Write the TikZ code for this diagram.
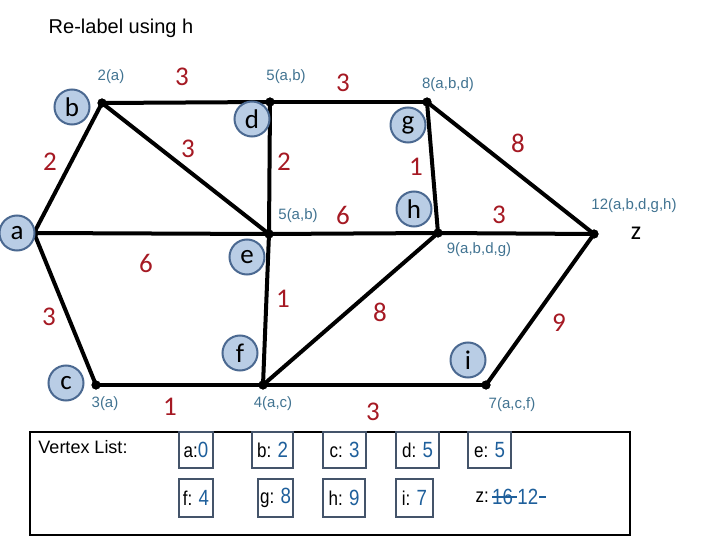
\documentclass[tikz,border=0pt]{standalone}
\usepackage{fontspec}
\setmainfont{Liberation Sans}
\newfontfamily\calib{Carlito}
\definecolor{wred}{RGB}{165,25,35}
\definecolor{lblue}{RGB}{65,115,145}
\definecolor{cfill}{RGB}{185,205,229}
\definecolor{cdraw}{RGB}{75,105,145}
\definecolor{bdraw}{RGB}{68,84,106}
\definecolor{nblue}{RGB}{30,95,155}
\newcommand{\nar}[1]{\scalebox{0.85}[1]{#1}}
\newcommand{\bnum}[1]{\textcolor{nblue}{\fontsize{22}{24}\selectfont #1}}
\begin{document}
\begin{tikzpicture}[x=1pt,y=-1pt,
  edge/.style={line width=4pt},
  dot/.style={circle,fill=black,inner sep=0pt,minimum size=9pt},
  vert/.style={circle,fill=cfill,draw=cdraw,line width=2pt,minimum size=35pt,inner sep=0pt,font=\calib\fontsize{27}{29}\selectfont},
  wt/.style={text=wred,font=\calib\fontsize{27}{29}\selectfont,inner sep=0pt},
  lab/.style={text=lblue,font=\fontsize{15}{17}\selectfont,inner sep=0pt},
  vbox/.style={draw=bdraw,line width=2pt,inner sep=0pt,font=\fontsize{20}{22}\selectfont},
  vtxt/.style={font=\fontsize{20}{22}\selectfont,inner sep=0pt}]
\useasboundingbox (0,0) rectangle (720,540);
% points
\node[dot] (a) at (34,233) {};
\node[dot] (b) at (102,103) {};
\node[dot] (d) at (270,102) {};
\node[dot] (e) at (269,234) {};
\node[dot] (g) at (427,102) {};
\node[dot] (h) at (438,233) {};
\node[dot] (z) at (594,234) {};
\node[dot] (c) at (96,385) {};
\node[dot] (f) at (263,385) {};
\node[dot] (i) at (486,385) {};
% edges
\draw[edge] (a.center) -- (b.center);
\draw[edge] (a.center) -- (e.center);
\draw[edge] (a.center) -- (c.center);
\draw[edge] (b.center) -- (d.center);
\draw[edge] (b.center) -- (e.center);
\draw[edge] (d.center) -- (e.center);
\draw[edge] (d.center) -- (g.center);
\draw[edge] (g.center) -- (h.center);
\draw[edge] (g.center) -- (z.center);
\draw[edge] (e.center) -- (h.center);
\draw[edge] (h.center) -- (z.center);
\draw[edge] (e.center) -- (f.center);
\draw[edge] (c.center) -- (f.center);
\draw[edge] (f.center) -- (h.center);
\draw[edge] (f.center) -- (i.center);
\draw[edge] (i.center) -- (z.center);
\foreach \p in {a,b,d,e,g,h,z,c,f,i} \fill (\p) circle (4.5pt);
% vertex circles
\node[vert] (va) at (17,233) {a};
\node[vert] (vb) at (72,107) {b};
\node[vert] (vd) at (252,119) {d};
\node[vert] (ve) at (247,257) {e};
\node[vert] (vg) at (408,125) {g};
\node[vert] (vh) at (414,209) {h};
\node[vert] (vc) at (66,383) {c};
\node[vert] (vf) at (240,353) {f};
\node[vert] (vi) at (468,360) {i};
\node[font=\calib\fontsize{26}{28}\selectfont,inner sep=0pt] (vz) at (636,233) {z};
% weights
\node[wt] (w1) at (182,77) {3};
\node[wt] (w2) at (343,83) {3};
\node[wt] (w3) at (50,162) {2};
\node[wt] (w4) at (188,149) {3};
\node[wt] (w5) at (284,162) {2};
\node[wt] (w6) at (343,215) {6};
\node[wt] (w7) at (146,263) {6};
\node[wt] (w8) at (518,143) {8};
\node[wt] (w9) at (416,167) {1};
\node[wt] (w10) at (499,215) {3};
\node[wt] (w11) at (49,317) {3};
\node[wt] (w12) at (283,299) {1};
\node[wt] (w13) at (170,407) {1};
\node[wt] (w14) at (380,312) {8};
\node[wt] (w15) at (559,323) {9};
\node[wt] (w16) at (373,412) {3};
% labels
\node[lab] (l1) at (111,77) {2(a)};
\node[lab] (l2) at (286,77) {5(a,b)};
\node[lab] (l3) at (448,85) {8(a,b,d)};
\node[lab] (l4) at (298,216) {5(a,b)};
\node[lab] (l5) at (634,206) {12(a,b,d,g,h)};
\node[lab] (l6) at (479,250) {9(a,b,d,g)};
\node[lab] (l7) at (105,404) {3(a)};
\node[lab] (l8) at (273,404) {4(a,c)};
\node[lab] (l9) at (512,405) {7(a,c,f)};
% title
\node[font=\fontsize{20}{22}\selectfont,inner sep=0pt] (title) at (121,28) {Re-label using h};
% vertex list
\draw[line width=2.5pt] (30,432) rectangle (630,535);
\node[font=\fontsize{18}{20}\selectfont,inner sep=0pt] (vl) at (83,447) {Vertex List:};
\node[vbox,minimum width=34pt,minimum height=36pt] (ba) at (196,450) {\nar{a:\bnum{0}}};
\node[vbox,minimum width=41pt,minimum height=36pt] (bb) at (272.5,450) {\nar{b: \bnum{2}}};
\node[vbox,minimum width=43pt,minimum height=36pt] (bc) at (344.5,450) {\nar{c: \bnum{3}}};
\node[vbox,minimum width=43pt,minimum height=36pt] (bd) at (417.5,450) {\nar{d: \bnum{5}}};
\node[vbox,minimum width=43pt,minimum height=36pt] (be) at (489.5,450) {\nar{e: \bnum{5}}};
\node[vbox,minimum width=34pt,minimum height=38pt] (bf) at (196,498) {\nar{f: \bnum{4}}};
\node[vbox,minimum width=35pt,minimum height=38pt] (bg) at (275.5,498) {\nar{g: \bnum{8}}};
\node[vbox,minimum width=42pt,minimum height=38pt] (bh) at (344,498) {\nar{h: \bnum{9}}};
\node[vbox,minimum width=37pt,minimum height=38pt] (bi) at (414.5,498) {\nar{i: \bnum{7}}};
\node[vtxt,anchor=east] (zl) at (489,497) {\nar{z:}};
\node[vtxt,anchor=west] (z16) at (492,497) {\nar{\bnum{16}}};
\node[vtxt,anchor=west] (z12) at ([xshift=4pt]z16.east) {\nar{\bnum{12}}};
\draw[nblue,line width=1.5pt] (z16.west) -- (z12.west);
\draw[nblue,line width=1.5pt] ([xshift=1pt]z12.east) -- ++(7,0);
\end{tikzpicture}
\end{document}
